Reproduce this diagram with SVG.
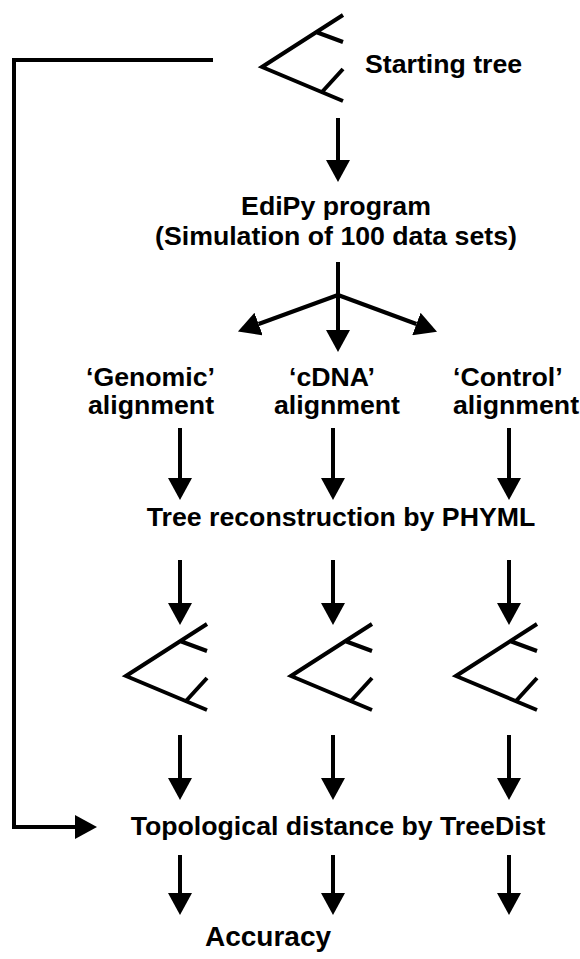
<svg xmlns="http://www.w3.org/2000/svg" width="580" height="959" viewBox="0 0 580 959">
<style>
text{font-family:"Liberation Sans",Arial,sans-serif;font-weight:bold;font-size:26.7px;fill:#000}
.c{text-anchor:middle}
.ln{fill:none;stroke:#000;stroke-width:4}
.tree{fill:none;stroke:#000;stroke-width:4}
</style>
<defs>
<marker id="ah" markerUnits="userSpaceOnUse" markerWidth="22" markerHeight="24" viewBox="0 0 22 24" refX="0" refY="12" orient="auto"><path d="M0,0 L22,12 L0,24 z" fill="#000"/></marker>
<path id="treeShape" d="M81,-52 L0,0 L81,34 M54,-35 L81,-25 M60,25 L81,2"/>
</defs>
<g id="connectors">
<path class="ln" d="M213,60 H14 V827 H75" marker-end="url(#ah)"/>
<line class="ln" x1="338" y1="118" x2="338" y2="160" marker-end="url(#ah)"/>
<line class="ln" x1="338" y1="262" x2="338" y2="330" marker-end="url(#ah)"/>
<line class="ln" x1="338" y1="295" x2="258.6" y2="324" marker-end="url(#ah)"/>
<line class="ln" x1="338" y1="295" x2="416.4" y2="324" marker-end="url(#ah)"/>
<line class="ln" x1="180" y1="428" x2="180" y2="478" marker-end="url(#ah)"/>
<line class="ln" x1="333" y1="428" x2="333" y2="478" marker-end="url(#ah)"/>
<line class="ln" x1="509" y1="428" x2="509" y2="478" marker-end="url(#ah)"/>
<line class="ln" x1="180" y1="560" x2="180" y2="603" marker-end="url(#ah)"/>
<line class="ln" x1="333" y1="560" x2="333" y2="603" marker-end="url(#ah)"/>
<line class="ln" x1="509" y1="560" x2="509" y2="603" marker-end="url(#ah)"/>
<line class="ln" x1="180" y1="735" x2="180" y2="778" marker-end="url(#ah)"/>
<line class="ln" x1="333" y1="735" x2="333" y2="778" marker-end="url(#ah)"/>
<line class="ln" x1="509" y1="735" x2="509" y2="778" marker-end="url(#ah)"/>
<line class="ln" x1="180" y1="855" x2="180" y2="893" marker-end="url(#ah)"/>
<line class="ln" x1="333" y1="855" x2="333" y2="893" marker-end="url(#ah)"/>
<line class="ln" x1="509" y1="855" x2="509" y2="893" marker-end="url(#ah)"/>
</g>
<g id="starting-tree">
<use href="#treeShape" class="tree" transform="translate(262,67)"/>
<text x="365" y="73">Starting tree</text>
</g>
<g id="edipy">
<text class="c" x="336" y="215">EdiPy program</text>
<text class="c" x="336" y="245">(Simulation of 100 data sets)</text>
</g>
<g id="genomic">
<text x="86" y="386">‘Genomic’</text>
<text x="88" y="414">alignment</text>
</g>
<g id="cdna">
<text class="c" x="332" y="386">‘cDNA’</text>
<text class="c" x="337" y="414">alignment</text>
</g>
<g id="control">
<text x="453" y="386">‘Control’</text>
<text x="453" y="414">alignment</text>
</g>
<g id="phyml">
<text class="c" x="341" y="526">Tree reconstruction by PHYML</text>
</g>
<g id="tree-genomic"><use href="#treeShape" class="tree" transform="translate(126,676)"/></g>
<g id="tree-cdna"><use href="#treeShape" class="tree" transform="translate(291,676)"/></g>
<g id="tree-control"><use href="#treeShape" class="tree" transform="translate(456,676)"/></g>
<g id="treedist">
<text class="c" x="338" y="835">Topological distance by TreeDist</text>
</g>
<g id="accuracy">
<text class="c" x="268" y="946" style="font-size:28px">Accuracy</text>
</g>
</svg>
